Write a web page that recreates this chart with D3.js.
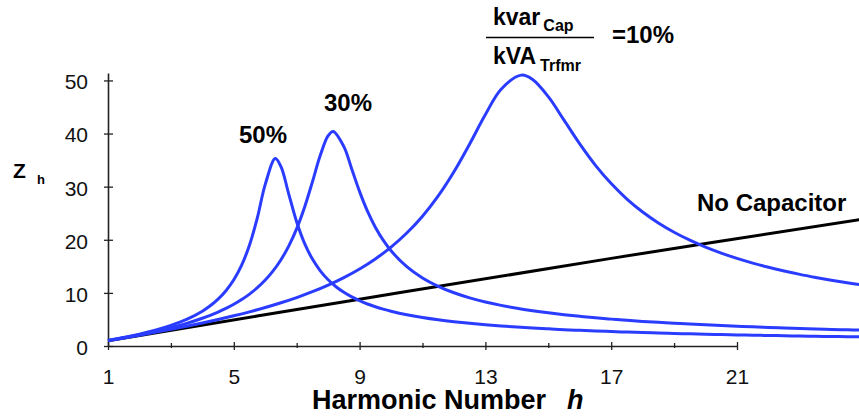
<!DOCTYPE html>
<html>
<head>
<meta charset="utf-8">
<script src="https://cdn.jsdelivr.net/npm/d3@7/dist/d3.min.js"></script>
<style>
  body { margin: 0; background: #fff; }
  svg { display: block; font-family: "Liberation Sans", Arial, Helvetica, sans-serif; }
</style>
</head>
<body>
<svg id="chart" width="859" height="417"></svg>
<script>
// Axis ticks
const hTicks = [1, 5, 9, 13, 17, 21];
const hMinorTicks = [3, 7, 11, 15, 19];
const zTicks = [0, 10, 20, 30, 40, 50];

// No capacitor: impedance grows linearly with harmonic number
const hNoCap = [1, 9, 17, 25];
const zNoCap = [1.0, 8.8, 16.5, 23.9];

// kvar/kVA = 50%
const h50 = [1, 1.5, 2, 2.5, 3, 3.5, 4, 4.25, 4.5, 4.75, 5, 5.25, 5.5, 5.75, 6, 6.32, 6.5, 6.75,
  7, 7.25, 7.5, 7.75, 8, 8.25, 8.5, 8.75, 9, 9.25, 9.5, 9.75, 10, 10.5, 11, 11.5, 12, 12.5, 13,
  13.5, 14, 14.5, 15, 15.5, 16, 16.5, 17, 17.5, 18, 18.5, 19, 19.5, 20, 20.5, 21, 21.5, 22,
  22.5, 23, 23.5, 24, 24.5, 25];
const z50 = [1.03, 1.59, 2.22, 2.96, 3.87, 5.0, 6.55, 7.57, 8.82, 10.41, 12.47, 15.23, 19.01,
  24.17, 30.43, 35.3, 33.76, 28.55, 23.34, 19.32, 16.36, 14.16, 12.47, 11.16, 10.10, 9.24, 8.52,
  7.91, 7.39, 6.94, 6.55, 5.89, 5.37, 4.94, 4.58, 4.27, 4.00, 3.77, 3.57, 3.39, 3.23, 3.08, 2.95,
  2.83, 2.72, 2.62, 2.53, 2.44, 2.36, 2.29, 2.22, 2.15, 2.09, 2.03, 1.98, 1.93, 1.88, 1.83, 1.79,
  1.75, 1.71];

// kvar/kVA = 30%
const h30 = [1, 1.5, 2, 2.5, 3, 3.5, 4, 4.25, 4.5, 4.75, 5, 5.25, 5.5, 5.75, 6, 6.25, 6.5, 6.75,
  7, 7.25, 7.5, 7.75, 8, 8.16, 8.5, 8.75, 9, 9.25, 9.5, 9.75, 10, 10.5, 11, 11.5, 12, 12.5, 13,
  13.5, 14, 14.5, 15, 15.5, 16, 16.5, 17, 17.5, 18, 18.5, 19, 19.5, 20, 20.5, 21, 21.5, 22,
  22.5, 23, 23.5, 24, 24.5, 25];
const z30 = [1.02, 1.55, 2.13, 2.76, 3.46, 4.26, 5.22, 5.77, 6.38, 7.07, 7.85, 8.74, 9.77,
  10.98, 12.41, 14.14, 16.25, 18.86, 22.11, 26.13, 30.91, 35.90, 39.60, 40.4, 37.54, 33.33,
  29.07, 25.39, 22.37, 19.92, 17.92, 14.93, 12.80, 11.23, 10.02, 9.07, 8.29, 7.65, 7.10, 6.64,
  6.24, 5.89, 5.58, 5.30, 5.06, 4.83, 4.63, 4.45, 4.28, 4.12, 3.98, 3.85, 3.72, 3.61, 3.50,
  3.40, 3.31, 3.22, 3.13, 3.05, 2.98];

// kvar/kVA = 10%
const h10 = [1, 1.5, 2, 2.5, 3, 3.5, 4, 4.5, 5, 5.5, 6, 6.5, 7, 7.5, 8, 8.5, 9, 9.5, 10, 10.5,
  11, 11.5, 12, 12.5, 13, 13.5, 14.14, 14.5, 15, 15.5, 16, 16.5, 17, 17.5, 18, 18.5, 19, 19.5,
  20, 20.5, 21, 21.5, 22, 22.5, 23, 23.5, 24, 24.5, 25];
const z10 = [1.01, 1.52, 2.04, 2.58, 3.14, 3.72, 4.33, 4.98, 5.68, 6.43, 7.24, 8.14, 9.12,
  10.22, 11.46, 12.88, 14.50, 16.39, 18.62, 21.27, 24.44, 28.26, 32.81, 38.05, 43.58, 48.35,
  51.0, 50.19, 46.94, 42.52, 38.05, 34.02, 30.58, 27.67, 25.23, 23.17, 21.42, 19.92, 18.62,
  17.49, 16.49, 15.61, 14.82, 14.12, 13.48, 12.91, 12.38, 11.90, 11.46];

const svg = d3.select("#chart");
const blue = "#2a3cff";

const x = d3.scaleLinear().domain([1, 21]).range([108, 737]);
const y = d3.scaleLinear().domain([0, 51.4]).range([346, 73]);

// Axes
const xAxis = svg.append("g").attr("transform", `translate(0,${y(0)})`)
  .call(d3.axisBottom(x).tickValues(hTicks).tickSizeOuter(0).tickFormat(d3.format("d")));
xAxis.select(".domain").attr("stroke", "#222").attr("stroke-width", 1.6);
xAxis.selectAll(".tick line").attr("y1", -4).attr("y2", 4).attr("stroke", "#222").attr("stroke-width", 1.3);
xAxis.selectAll(".tick text").attr("y", 38).attr("dy", 0).attr("font-size", 21)
  .attr("fill", "#111").attr("font-family", null);

const xMinor = svg.append("g").attr("transform", `translate(0,${y(0)})`)
  .call(d3.axisBottom(x).tickValues(hMinorTicks).tickSizeOuter(0).tickFormat(""));
xMinor.select(".domain").remove();
xMinor.selectAll(".tick line").attr("y1", -3).attr("y2", 2).attr("stroke", "#222").attr("stroke-width", 1.3);

const yAxis = svg.append("g").attr("transform", `translate(${x(1)},0)`)
  .call(d3.axisLeft(y).tickValues(zTicks).tickSizeOuter(0));
yAxis.select(".domain").attr("stroke", "#222").attr("stroke-width", 1.6);
yAxis.selectAll(".tick line").attr("x1", -4).attr("x2", 5).attr("stroke", "#222").attr("stroke-width", 1.3);
yAxis.selectAll(".tick text").attr("x", -20).attr("dy", "0.4em").attr("font-size", 21)
  .attr("fill", "#111").attr("font-family", null);

// Curves
const line = d3.line()
  .x(d => x(d[0]))
  .y(d => y(d[1]))
  .curve(d3.curveCatmullRom.alpha(0.5));

const series = [
  { h: hNoCap, z: zNoCap, color: "#000" },
  { h: h10, z: z10, color: blue },
  { h: h30, z: z30, color: blue },
  { h: h50, z: z50, color: blue }
];

svg.append("g").selectAll("path")
  .data(series)
  .join("path")
  .attr("d", s => line(s.h.map((hv, i) => [hv, s.z[i]])))
  .attr("fill", "none")
  .attr("stroke", s => s.color)
  .attr("stroke-width", 3)
  .attr("stroke-linejoin", "round");

// Labels
const bold = (sel) => sel.attr("font-weight", "bold").attr("fill", "#000");

bold(svg.append("text").attr("x", 239).attr("y", 143).attr("font-size", 24)).text("50%");
bold(svg.append("text").attr("x", 324).attr("y", 111).attr("font-size", 24)).text("30%");
bold(svg.append("text").attr("x", 697).attr("y", 211).attr("font-size", 24)).text("No Capacitor");

// Ratio annotation
const frac = svg.append("g");
const num = bold(frac.append("text").attr("x", 493).attr("y", 25).attr("font-size", 23));
num.append("tspan").text("kvar");
num.append("tspan").attr("dx", 3).attr("dy", 6).attr("font-size", 16).text("Cap");
frac.append("line").attr("x1", 486).attr("x2", 594).attr("y1", 37.5).attr("y2", 37.5)
  .attr("stroke", "#000").attr("stroke-width", 1.3);
const den = bold(frac.append("text").attr("x", 493).attr("y", 64).attr("font-size", 23));
den.append("tspan").text("kVA");
den.append("tspan").attr("dx", 4).attr("dy", 7).attr("font-size", 16).text("Trfmr");
bold(frac.append("text").attr("x", 612).attr("y", 43).attr("font-size", 24)).text("=10%");

// Axis titles
const yTitle = bold(svg.append("text").attr("x", 13).attr("y", 178).attr("font-size", 21));
yTitle.append("tspan").text("Z");
yTitle.append("tspan").attr("x", 37).attr("dy", 6).attr("font-size", 13).text("h");

const xTitle = bold(svg.append("text").attr("x", 312).attr("y", 409).attr("font-size", 27));
xTitle.append("tspan").text("Harmonic Number");
xTitle.append("tspan").attr("x", 567).attr("font-style", "italic").text("h");
</script>
</body>
</html>
